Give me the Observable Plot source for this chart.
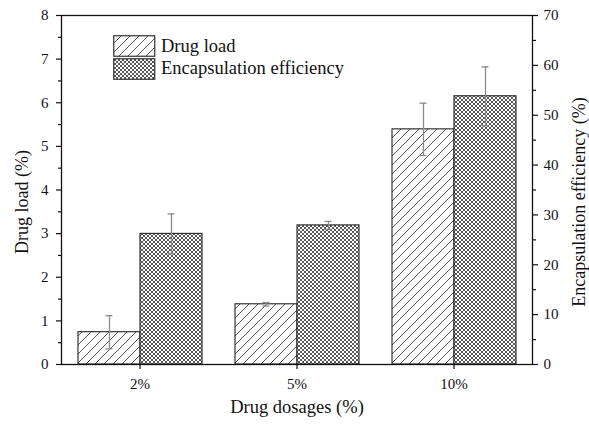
<!DOCTYPE html>
<html>
<head>
<meta charset="utf-8">
<script src="https://cdn.jsdelivr.net/npm/d3@7"></script>
<script src="https://cdn.jsdelivr.net/npm/@observablehq/plot@0.6"></script>
<style>
  html, body { margin: 0; padding: 0; background: #fff; }
  #wrap { position: relative; width: 589px; height: 428px; font-family: "Liberation Serif", serif; }
  #legend { position: absolute; left: 113px; top: 35px; font-size: 18.5px; color: #111; }
  #legend .row { display: flex; align-items: center; height: 22.5px; }
  #legend svg { margin-right: 5px; display: block; }
</style>
</head>
<body>
<div id="wrap"></div>
<script>
const categories = ["2%", "5%", "10%"];
const seriesNames = ["Drug load", "Encapsulation efficiency"];
const drugLoad = [0.74, 1.38, 5.39];
const drugLoadErr = [0.38, 0.04, 0.6];
const encEff = [26.2, 27.9, 53.8];
const encEffErr = [4.0, 0.8, 5.9];
const leftTicks = [0, 1, 2, 3, 4, 5, 6, 7, 8];
const rightTicks = [0, 10, 20, 30, 40, 50, 60, 70];
const ratio = rightTicks[rightTicks.length - 1] / leftTicks[leftTicks.length - 1];
const axisTitles = ["Drug load (%)", "Encapsulation efficiency (%)", "Drug dosages (%)"];

const rows = [];
categories.forEach((c, i) => {
  rows.push({cat: c, series: seriesNames[0], value: drugLoad[i], err: drugLoadErr[i]});
  rows.push({cat: c, series: seriesNames[1], value: encEff[i] / ratio, err: encEffErr[i] / ratio});
});
const fills = {[seriesNames[0]]: "url(#hatch)", [seriesNames[1]]: "url(#cross)"};
const minorLeft = d3.range(0.5, 8, 1);
const minorRight = d3.range(5, 70, 10).map(v => v / ratio);

const svg = Plot.plot({
  width: 589,
  height: 428,
  marginLeft: 61,
  marginRight: 57,
  marginTop: 15,
  marginBottom: 64,
  style: {fontFamily: "Liberation Serif", fontSize: "15px", color: "#111", background: "#fff"},
  fx: {domain: categories, padding: 0, label: null},
  x: {domain: seriesNames, paddingInner: 0, paddingOuter: 0.25, axis: null},
  y: {domain: [0, 8], label: null},
  marks: [
    Plot.barY(rows.filter(d => d.series === seriesNames[0]), {fx: "cat", x: "series", y: "value", fill: fills[seriesNames[0]], stroke: "#222", strokeWidth: 1.1}),
    Plot.barY(rows.filter(d => d.series === seriesNames[1]), {fx: "cat", x: "series", y: "value", fill: fills[seriesNames[1]], stroke: "#222", strokeWidth: 1.1}),
    Plot.ruleX(rows, {fx: "cat", x: "series", y1: d => d.value - d.err, y2: d => d.value + d.err, stroke: "#8a8a8a", strokeWidth: 1.3}),
    Plot.tickY(rows, {fx: "cat", x: "series", y: d => d.value + d.err, stroke: "#8a8a8a", strokeWidth: 1.3, insetLeft: 27.5, insetRight: 27.5}),
    Plot.tickY(rows, {fx: "cat", x: "series", y: d => d.value - d.err, stroke: "#8a8a8a", strokeWidth: 1.3, insetLeft: 27.5, insetRight: 27.5}),
    Plot.frame({facet: "super", stroke: "#111", strokeWidth: 1.3}),
    Plot.axisY({anchor: "left", ticks: leftTicks, tickSize: 5, tickPadding: 8, strokeWidth: 1.2, label: null}),
    Plot.axisY({anchor: "left", ticks: minorLeft, tickSize: 3, tickFormat: () => "", label: null, strokeWidth: 1.2}),
    Plot.axisY({anchor: "right", ticks: rightTicks.map(v => v / ratio), tickFormat: d => Math.round(d * ratio),
      tickSize: 5, tickPadding: 6, strokeWidth: 1.2, label: null}),
    Plot.axisY({anchor: "right", ticks: minorRight, tickSize: 3, tickFormat: () => "", label: null, strokeWidth: 1.2}),
    Plot.axisFx({anchor: "bottom", tickSize: 5, tickPadding: 9, strokeWidth: 1.2, label: null}),
    Plot.text([axisTitles[0]], {facet: "super", frameAnchor: "left", textAnchor: "middle", rotate: -90, dx: -39, dy: 12, fontSize: 18, fill: "#111"}),
    Plot.text([axisTitles[1]], {facet: "super", frameAnchor: "right", textAnchor: "middle", rotate: -90, dx: 47, dy: 12, fontSize: 18, fill: "#111"}),
    Plot.text([axisTitles[2]], {facet: "super", frameAnchor: "bottom", dy: 48, fontSize: 18.5, fill: "#111"})
  ]
});

const defs = d3.select(svg).insert("defs", ":first-child");
const hatch = defs.append("pattern").attr("id", "hatch").attr("patternUnits", "userSpaceOnUse")
  .attr("width", 9).attr("height", 9);
hatch.append("rect").attr("width", 9).attr("height", 9).attr("fill", "#fff");
hatch.append("path").attr("d", "M0,9L9,0M-3,3L3,-3M6,12L12,6").attr("stroke", "#555").attr("stroke-width", 1);
const cross = defs.append("pattern").attr("id", "cross").attr("patternUnits", "userSpaceOnUse")
  .attr("width", 4).attr("height", 4);
cross.append("rect").attr("width", 4).attr("height", 4).attr("fill", "#fff");
cross.append("path").attr("d", "M0,0L4,4M4,0L0,4").attr("stroke", "#444").attr("stroke-width", 0.9);

const wrap = document.getElementById("wrap");
wrap.appendChild(svg);

const legend = document.createElement("div");
legend.id = "legend";
seriesNames.forEach(name => {
  const row = document.createElement("div");
  row.className = "row";
  row.innerHTML = `<svg width="43" height="22"><rect x="0.75" y="0.75" width="41" height="20.5" fill="${fills[name]}" stroke="#333" stroke-width="1.2"/></svg><span>${name}</span>`;
  legend.appendChild(row);
});
wrap.appendChild(legend);
</script>
</body>
</html>
